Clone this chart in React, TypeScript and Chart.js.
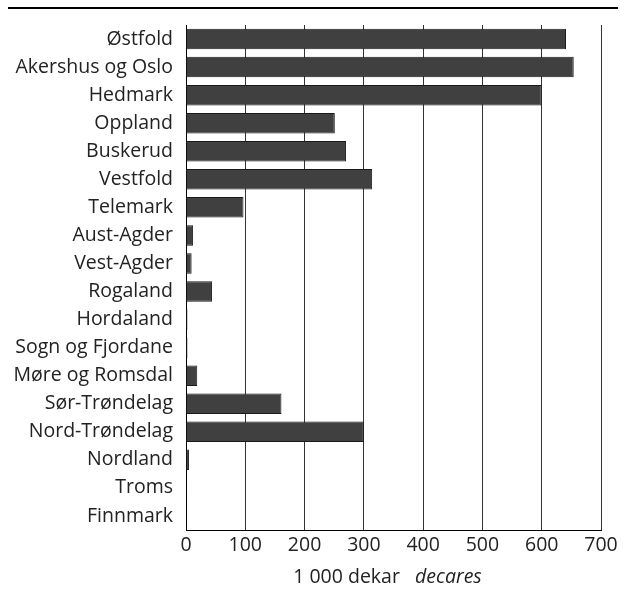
import React, { useEffect, useRef } from "react";
import { Chart, registerables } from "chart.js";

Chart.register(...registerables);

const categories: string[] = [
  "Østfold",
  "Akershus og Oslo",
  "Hedmark",
  "Oppland",
  "Buskerud",
  "Vestfold",
  "Telemark",
  "Aust-Agder",
  "Vest-Agder",
  "Rogaland",
  "Hordaland",
  "Sogn og Fjordane",
  "Møre og Romsdal",
  "Sør-Trøndelag",
  "Nord-Trøndelag",
  "Nordland",
  "Troms",
  "Finnmark",
];

const values: number[] = [641, 654, 600, 251, 270, 314, 97, 12, 9.5, 44, 2.5, 2.5, 19, 161, 300, 5, 0.5, 0];

const xTicks: number[] = [0, 100, 200, 300, 400, 500, 600, 700];

const axisTitleNormal = "1 000 dekar";
const axisTitleItalic = "decares";

const FONT = "'Open Sans', 'DejaVu Sans', sans-serif";
const FS = 19.5;

const decorPlugin = {
  id: "decor",
  afterDraw(chart: any) {
    const ctx = chart.ctx as CanvasRenderingContext2D;
    const area = chart.chartArea;
    ctx.save();
    // top rule
    ctx.fillStyle = "#000";
    ctx.fillRect(8, 7, 610, 2);
    // axis title with mixed style
    ctx.fillStyle = "#222";
    ctx.textBaseline = "middle";
    ctx.font = `${FS}px ${FONT}`;
    const w1 = ctx.measureText(axisTitleNormal + "   ").width;
    ctx.font = `italic ${FS}px ${FONT}`;
    const w2 = ctx.measureText(axisTitleItalic).width;
    const cx = (area.left + area.right) / 2 - 6;
    const start = cx - (w1 + w2) / 2;
    const y = 577;
    ctx.font = `${FS}px ${FONT}`;
    ctx.textAlign = "left";
    ctx.fillText(axisTitleNormal, start, y);
    ctx.font = `italic ${FS}px ${FONT}`;
    ctx.fillText(axisTitleItalic, start + w1, y);
    ctx.restore();
  },
};

export default function App() {
  const ref = useRef<HTMLCanvasElement | null>(null);

  useEffect(() => {
    document.body.style.margin = "0";
    if (!ref.current) return;
    const chart = new Chart(ref.current, {
      type: "bar",
      data: {
        labels: categories,
        datasets: [
          {
            data: values,
            backgroundColor: "#404040",
            borderColor: "#1a1a1a",
            borderWidth: 1,
            barPercentage: 0.73,
            categoryPercentage: 1,
          },
        ],
      },
      options: {
        indexAxis: "y",
        animation: false,
        responsive: false,
        maintainAspectRatio: false,
        layout: { padding: { top: 25, right: 24, bottom: 0, left: 0 } },
        plugins: {
          legend: { display: false },
          tooltip: { enabled: false },
          title: { display: false },
        },
        scales: {
          x: {
            type: "linear",
            min: 0,
            max: 700,
            afterBuildTicks: (scale: any) => {
              scale.ticks = xTicks.map((v) => ({ value: v }));
            },
            afterFit: (scale: any) => {
              scale.height = 62;
            },
            grid: {
              color: "#333",
              lineWidth: 1,
              drawTicks: false,
            },
            border: { display: true, color: "#000", width: 1 },
            ticks: {
              color: "#222",
              padding: 4,
              font: { family: FONT, size: FS },
            },
          },
          y: {
            afterFit: (scale: any) => {
              scale.width = 186;
            },
            grid: { display: false, drawTicks: false },
            border: { display: true, color: "#000", width: 1 },
            ticks: {
              color: "#222",
              padding: 13,
              autoSkip: false,
              font: { family: FONT, size: FS },
            },
          },
        },
      },
      plugins: [decorPlugin],
    });
    return () => chart.destroy();
  }, []);

  return (
    <div style={{ position: "absolute", left: 0, top: 0, width: 625, height: 592, background: "#fff" }}>
      <canvas ref={ref} width={625} height={592} style={{ width: 625, height: 592, display: "block" }} />
    </div>
  );
}
